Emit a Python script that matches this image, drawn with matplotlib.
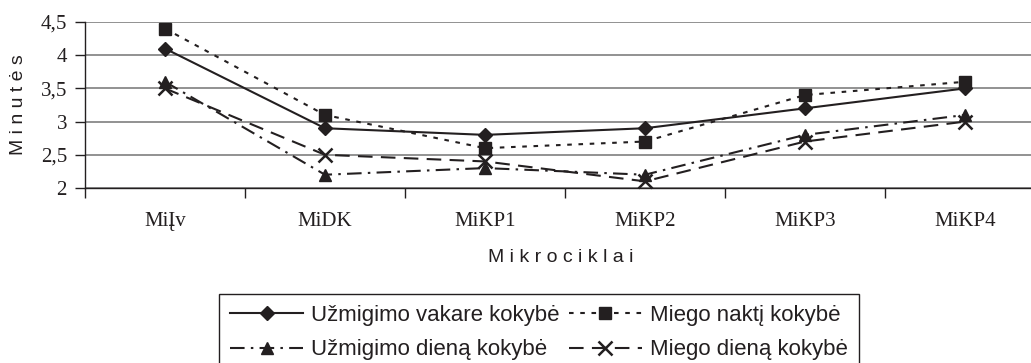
import matplotlib
matplotlib.use("Agg")
import matplotlib.pyplot as plt
from matplotlib.lines import Line2D

categories = ["MiĮv", "MiDK", "MiKP1", "MiKP2", "MiKP3", "MiKP4"]
uzmigimo_vakare = [4.1, 2.9, 2.8, 2.9, 3.2, 3.5]
miego_nakti = [4.4, 3.1, 2.6, 2.7, 3.4, 3.6]
uzmigimo_diena = [3.6, 2.2, 2.3, 2.2, 2.8, 3.1]
miego_diena = [3.5, 2.5, 2.4, 2.1, 2.7, 3.0]
series_names = ["Užmigimo vakare kokybė", "Miego naktį kokybė",
                "Užmigimo dieną kokybė", "Miego dieną kokybė"]
yticks = [2, 2.5, 3, 3.5, 4, 4.5]
ytick_labels = ["2", "2,5", "3", "3,5", "4", "4,5"]

W, H = 1031, 363
fig = plt.figure(figsize=(W / 100, H / 100), dpi=100)
ax = fig.add_axes([85 / W, 1 - 188 / H, (1045 - 85) / W, (188 - 22) / H])

ink = "#231f20"
x = list(range(len(categories)))

styles = [
    dict(marker="D", ms=7.5, ls="-"),
    dict(marker="s", ms=9, ls=(0, (2.2, 3.2))),
    dict(marker="^", ms=9, ls=(0, (7, 3, 1.2, 3))),
    dict(marker="x", ms=10, ls=(0, (7, 4)), mew=1.8),
]
data = [uzmigimo_vakare, miego_nakti, uzmigimo_diena, miego_diena]
handles = []
for vals, st, name in zip(data, styles, series_names):
    kw = dict(color=ink, lw=1.5, marker=st["marker"], ms=st["ms"],
              ls=st["ls"], mew=st.get("mew", 1), mfc=ink, mec=ink)
    ax.plot(x, vals, zorder=3, clip_on=False, **kw)
    handles.append(Line2D([], [], label=name, **kw))

ax.set_xlim(-0.5, len(categories) - 0.5)
ax.set_ylim(2, 4.5)
ax.set_yticks(yticks)
ax.set_yticklabels(ytick_labels, family="Liberation Serif", fontsize=15, color=ink)
ax.set_xticks(x)
ax.set_xticklabels(categories, family="Liberation Serif", fontsize=15, color=ink)
ax.tick_params(axis="x", which="major", length=0, pad=17)
ax.set_xticks([i - 0.5 for i in range(len(categories) + 1)], minor=True)
ax.tick_params(axis="x", which="minor", length=7, width=1, color=ink, direction="out")
ax.tick_params(axis="y", length=7, width=1, color=ink, direction="out", pad=6)
ax.grid(axis="y", color="#7f7f7f", lw=1.2, zorder=0)
for s in ["top", "right"]:
    ax.spines[s].set_visible(False)
ax.spines["left"].set_color(ink)
ax.spines["bottom"].set_color(ink)
ax.spines["left"].set_linewidth(1)
ax.spines["bottom"].set_linewidth(1)

fig.text(19 / W, 1 - 105 / H, "M i n u t ė s", rotation=90, va="center", ha="center",
         family="Liberation Sans", fontsize=14, color=ink)
fig.text(561 / W, 1 - 257 / H, "M i k r o c i k l a i", va="center", ha="center",
         family="Liberation Sans", fontsize=14, color=ink)

# row-major order for a 2-column legend
leg_order = [0, 2, 1, 3]
leg = fig.legend(handles=[handles[i] for i in leg_order], ncol=2, loc="upper left",
                 bbox_to_anchor=(219 / W, 1 - 294 / H),
                 prop=dict(family="Liberation Sans", size=16),
                 frameon=True, fancybox=False, edgecolor=ink, framealpha=1,
                 handlelength=3.3, handletextpad=0.35, columnspacing=0.4,
                 borderpad=0.5, labelspacing=0.6, borderaxespad=0)
leg.get_frame().set_linewidth(1)
for t in leg.get_texts():
    t.set_color(ink)

fig.savefig("out.png", dpi=100)
